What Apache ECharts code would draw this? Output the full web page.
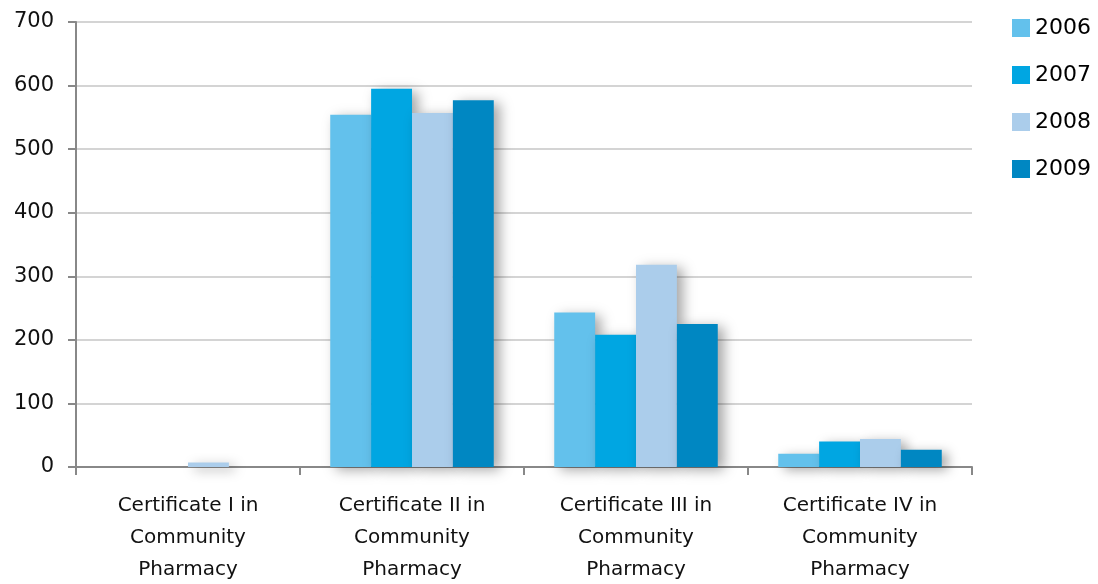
<!DOCTYPE html>
<html><head><meta charset="utf-8">
<script src="https://cdn.jsdelivr.net/npm/echarts@6/dist/echarts.min.js"></script>
<style>html,body{margin:0;padding:0;background:#fff}#c{width:1098px;height:584px}</style>
</head><body><div id="c"></div>
<script>
var categories = ["Certificate I in\nCommunity\nPharmacy", "Certificate II in\nCommunity\nPharmacy", "Certificate III in\nCommunity\nPharmacy", "Certificate IV in\nCommunity\nPharmacy"];
var seriesNames = ["2006", "2007", "2008", "2009"];
var v2006 = [0, 554, 243, 21];
var v2007 = [0, 595, 208, 40];
var v2008 = [7, 557, 318, 44];
var v2009 = [0, 577, 225, 27];
var colors = ["#63C1EC", "#00A6E2", "#ABCDEB", "#0087C2"];
var values = [v2006, v2007, v2008, v2009];
var font = "DejaVu Sans";
var chart = echarts.init(document.getElementById('c'));
chart.setOption({
  animation: false,
  grid: {left: 76, right: 126, top: 22, bottom: 117, containLabel: false, outerBoundsMode: 'none'},
  legend: {
    orient: 'vertical', left: 1012, top: 17, padding: 0, itemWidth: 18, itemHeight: 18, itemGap: 25,
    icon: 'rect',
    textStyle: {fontFamily: font, fontSize: 22, color: '#000'},
    data: seriesNames
  },
  xAxis: {
    type: 'category', data: categories,
    axisLine: {lineStyle: {color: '#888', width: 2}},
    axisTick: {show: true, length: 8, lineStyle: {color: '#888', width: 2}},
    axisLabel: {fontFamily: font, fontSize: 20, color: '#111', lineHeight: 32, margin: 23}
  },
  yAxis: {
    type: 'value', min: 0, max: 700, interval: 100,
    axisLine: {show: true, lineStyle: {color: '#888', width: 2}},
    axisTick: {show: true, length: 8, lineStyle: {color: '#888', width: 2}},
    splitLine: {lineStyle: {color: '#d4d4d4', width: 2}},
    axisLabel: {fontFamily: font, fontSize: 21, color: '#111', margin: 22}
  },
  series: seriesNames.map(function(n, i){
    return {
      name: n, type: 'bar', data: values[i], barGap: '0%', barCategoryGap: '27%',
      itemStyle: {color: colors[i], shadowBlur: 12, shadowOffsetX: 6, shadowOffsetY: 3, shadowColor: 'rgba(0,0,0,0.35)'}
    };
  })
});
</script></body></html>
